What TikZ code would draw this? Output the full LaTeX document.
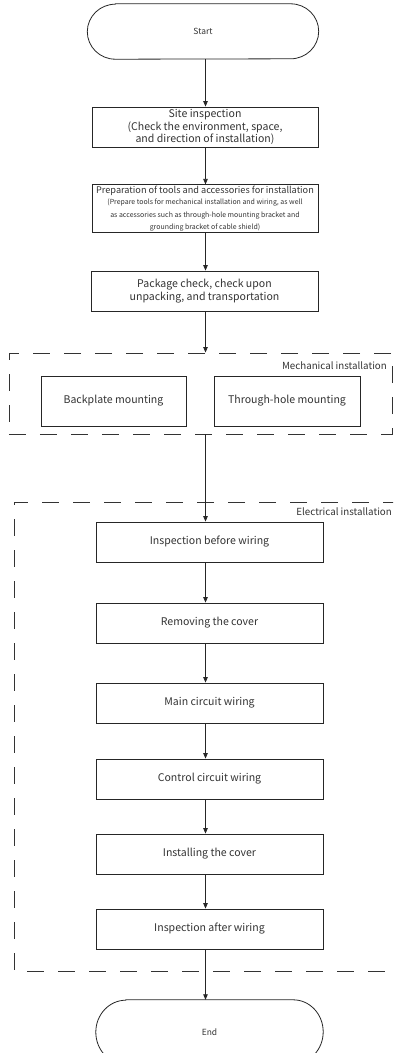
\documentclass[tikz,border=0pt]{standalone}
\usepackage{fontspec}
\setmainfont{Noto Sans CJK SC}
\usetikzlibrary{arrows.meta,calc}
\tikzset{
  box/.style={draw=black!85, line width=0.8bp, rectangle, align=center, inner sep=1bp, font=\fontsize{10.6}{12.3}\selectfont, text=black!80},
  term/.style={draw=none, rectangle, inner sep=0pt, font=\fontsize{8.5}{10}\selectfont, text=black!80},
  flow/.style={draw=black!85, line width=0.8bp, -{Triangle[length=5.5bp,width=4.5bp]}},
  plain/.style={draw=black!85, line width=0.8bp},
  group/.style={draw=black!80, line width=0.9bp, dash pattern=on 17bp off 14bp},
  grouplabel/.style={font=\fontsize{9.8}{11}\selectfont, text=black!80, inner sep=0pt, anchor=east}
}
\begin{document}
\begin{tikzpicture}[x=1bp,y=1bp]
\useasboundingbox (0,0) rectangle (393,-1053);
\clip (0,0) rectangle (393,-1053);
\coordinate (spine) at (205.5,0);
% Start
\node[term, minimum width=231bp, minimum height=55bp] (start) at (203,-31.5) {Start};
\draw[plain] ([xshift=28bp]start.north west) -- ([xshift=-28bp]start.north east)
  arc[start angle=90,end angle=-90,x radius=28bp,y radius=27.5bp]
  -- ([xshift=28bp]start.south west)
  arc[start angle=270,end angle=90,x radius=28bp,y radius=27.5bp] -- cycle;
% top boxes
\node[box, minimum width=226bp, minimum height=40bp] (site) at (205,-127) {Site inspection\\(Check the environment, space,\\and direction of installation)};
\node[box, minimum width=226bp, minimum height=41bp] (prep) at (205,-208.5) {\fontsize{9.2}{9.5}\selectfont Preparation of tools and accessories for installation\\[-0.5bp]\fontsize{7}{7.8}\selectfont(Prepare tools for mechanical installation and wiring, as well\\\fontsize{7}{7.8}\selectfont as accessories such as through-hole mounting bracket and\\\fontsize{7}{7.8}\selectfont grounding bracket of cable shield)};
\node[box, minimum width=227bp, minimum height=40bp] (pack) at (204.5,-291) {Package check, check upon\\unpacking, and transportation};
% mechanical group
\node[group, rectangle, minimum width=383bp, minimum height=81bp] (mech) at (200.5,-393.5) {};
\node[grouplabel] (mechlbl) at (387,-366) {Mechanical installation};
\node[box, minimum width=145bp, minimum height=50bp] (back) at (113.5,-401) {Backplate mounting};
\node[box, minimum width=146bp, minimum height=50bp] (thru) at (287,-401) {Through-hole mounting};
% electrical group
\coordinate (elTR) at (400,-502);
\coordinate (elTL) at (14,-502);
\coordinate (elBL) at (14,-971);
\coordinate (elBR) at (400,-971);
\draw[group] (elTR) -- (elTL) -- (elBL) -- (elBR);
\node[grouplabel] (ellbl) at (392,-512) {Electrical installation};
\node[box, minimum width=227bp, minimum height=40bp] (e1) at (209.5,-542) {Inspection before wiring};
\node[box, minimum width=227bp, minimum height=40bp] (e2) at (209.5,-623) {Removing the cover};
\node[box, minimum width=227bp, minimum height=40bp] (e3) at (209.5,-703) {Main circuit wiring};
\node[box, minimum width=227bp, minimum height=40bp] (e4) at (209.5,-779) {Control circuit wiring};
\node[box, minimum width=227bp, minimum height=40bp] (e5) at (209.5,-854) {Installing the cover};
\node[box, minimum width=227bp, minimum height=40bp] (e6) at (209.5,-929) {Inspection after wiring};
% End
\node[term, minimum width=227bp, minimum height=64bp] (end) at (209.5,-1032) {End};
\draw[plain] ([xshift=30bp]end.north west) -- ([xshift=-30bp]end.north east)
  arc[start angle=90,end angle=-90,x radius=30bp,y radius=32bp]
  -- ([xshift=30bp]end.south west)
  arc[start angle=270,end angle=90,x radius=30bp,y radius=32bp] -- cycle;
% connectors
\draw[flow] (start.south -| spine) -- (site.north -| spine);
\draw[flow] (site.south -| spine) -- (prep.north -| spine);
\draw[flow] (prep.south -| spine) -- (pack.north -| spine);
\draw[flow] (pack.south -| spine) -- (mech.north -| spine);
\draw[flow] (mech.south -| spine) -- (e1.north -| spine);
\draw[flow] (e1.south -| spine) -- (e2.north -| spine);
\draw[flow] (e2.south -| spine) -- (e3.north -| spine);
\draw[flow] (e3.south -| spine) -- (e4.north -| spine);
\draw[flow] (e4.south -| spine) -- (e5.north -| spine);
\draw[flow] (e5.south -| spine) -- (e6.north -| spine);
\draw[flow] (e6.south -| spine) -- (end.north -| spine);
\end{tikzpicture}
\end{document}
